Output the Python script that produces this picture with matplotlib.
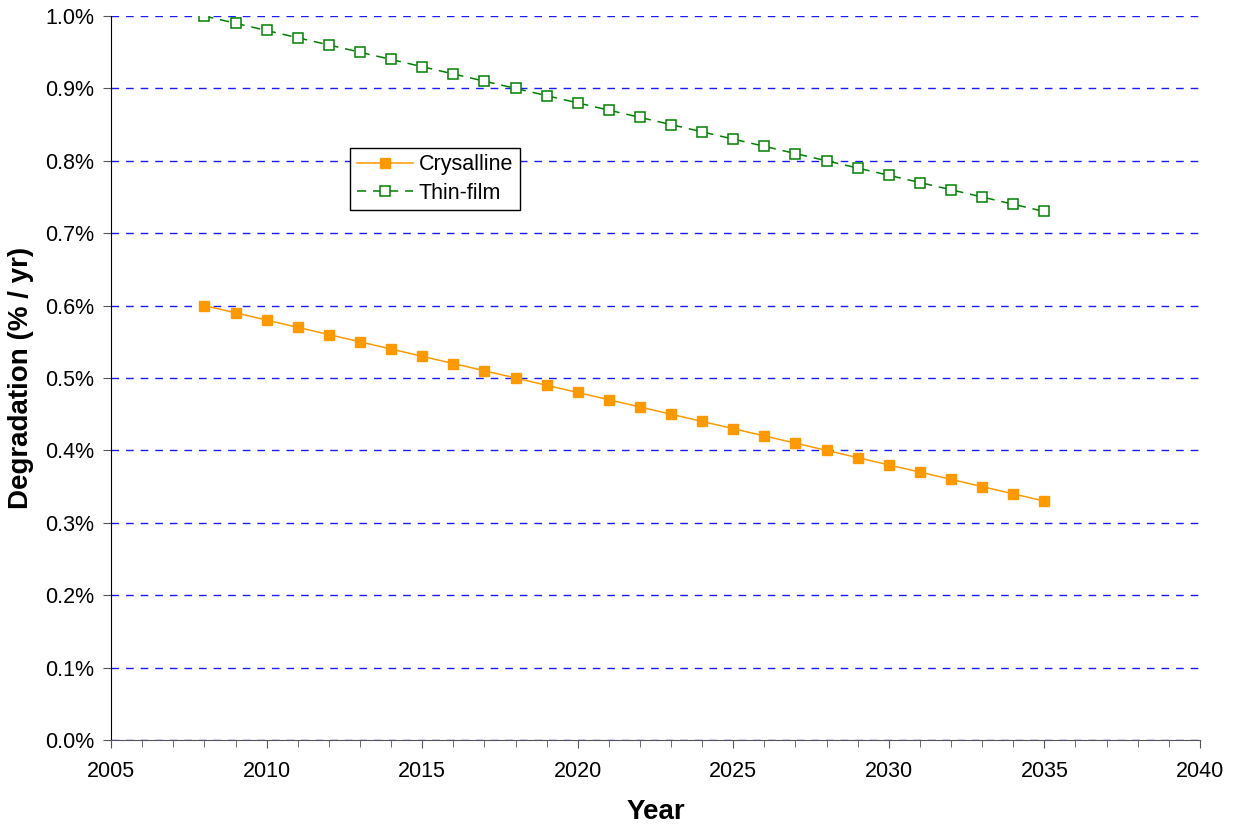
import matplotlib
matplotlib.use("Agg")
import matplotlib.pyplot as plt
from matplotlib.ticker import MultipleLocator, FuncFormatter

years = list(range(2008, 2036))
crystalline = [0.60, 0.59, 0.58, 0.57, 0.56, 0.55, 0.54, 0.53, 0.52, 0.51,
               0.50, 0.49, 0.48, 0.47, 0.46, 0.45, 0.44, 0.43, 0.42, 0.41,
               0.40, 0.39, 0.38, 0.37, 0.36, 0.35, 0.34, 0.33]
thin_film = [1.00, 0.99, 0.98, 0.97, 0.96, 0.95, 0.94, 0.93, 0.92, 0.91,
             0.90, 0.89, 0.88, 0.87, 0.86, 0.85, 0.84, 0.83, 0.82, 0.81,
             0.80, 0.79, 0.78, 0.77, 0.76, 0.75, 0.74, 0.73]

plt.rcParams["font.family"] = ["Liberation Sans", "DejaVu Sans"]

fig = plt.figure(figsize=(12.34, 8.25), dpi=100)
ax = fig.add_axes([0.09, 0.103, 0.8824, 0.8776])

ax.plot(years, crystalline, color="#FF9900", linewidth=1.1, marker="s",
        markersize=7, markerfacecolor="#FF9900", markeredgecolor="#FF9900",
        label="Crysalline", zorder=3)
ax.plot(years, thin_film, color="#008000", linewidth=1.1, linestyle=(0, (6, 4.5)),
        marker="s", markersize=7, markerfacecolor="white",
        markeredgecolor="#008000", markeredgewidth=1.1, label="Thin-film", zorder=3)

ax.set_xlim(2005, 2040)
ax.set_ylim(0, 1.0)
ax.xaxis.set_major_locator(MultipleLocator(5))
ax.xaxis.set_minor_locator(MultipleLocator(1))
ax.yaxis.set_major_locator(MultipleLocator(0.1))
ax.yaxis.set_major_formatter(FuncFormatter(lambda v, p: f"{v:.1f}%"))

ax.grid(True, axis="y", color="#1a1aFF", linestyle=(0, (5.5, 5)), linewidth=1.0)
ax.set_axisbelow(True)

for side in ("top", "right"):
    ax.spines[side].set_visible(False)
ax.spines["left"].set_color("black")
ax.spines["bottom"].set_color("#555555")

ax.tick_params(axis="both", which="major", labelsize=15.5, direction="out",
               length=6, color="#555555")
ax.tick_params(axis="x", which="minor", direction="out", length=5, color="#555555")
ax.tick_params(axis="x", pad=9)
ax.tick_params(axis="y", pad=6)

ax.set_xlabel("Year", fontsize=20, fontweight="bold")
ax.set_ylabel("Degradation (% / yr)", fontsize=20, fontweight="bold")
ax.xaxis.set_label_coords(0.5, -0.081)
ax.yaxis.set_label_coords(-0.071, 0.5)

leg = ax.legend(loc="upper left", bbox_to_anchor=(0.2195, 0.8177), fontsize=15.5,
                fancybox=False, edgecolor="black", framealpha=1, borderaxespad=0,
                handlelength=2.6, handletextpad=0.3, borderpad=0.3,
                labelspacing=0.35)
leg.get_frame().set_linewidth(1.0)

fig.savefig("out.png", dpi=100)
